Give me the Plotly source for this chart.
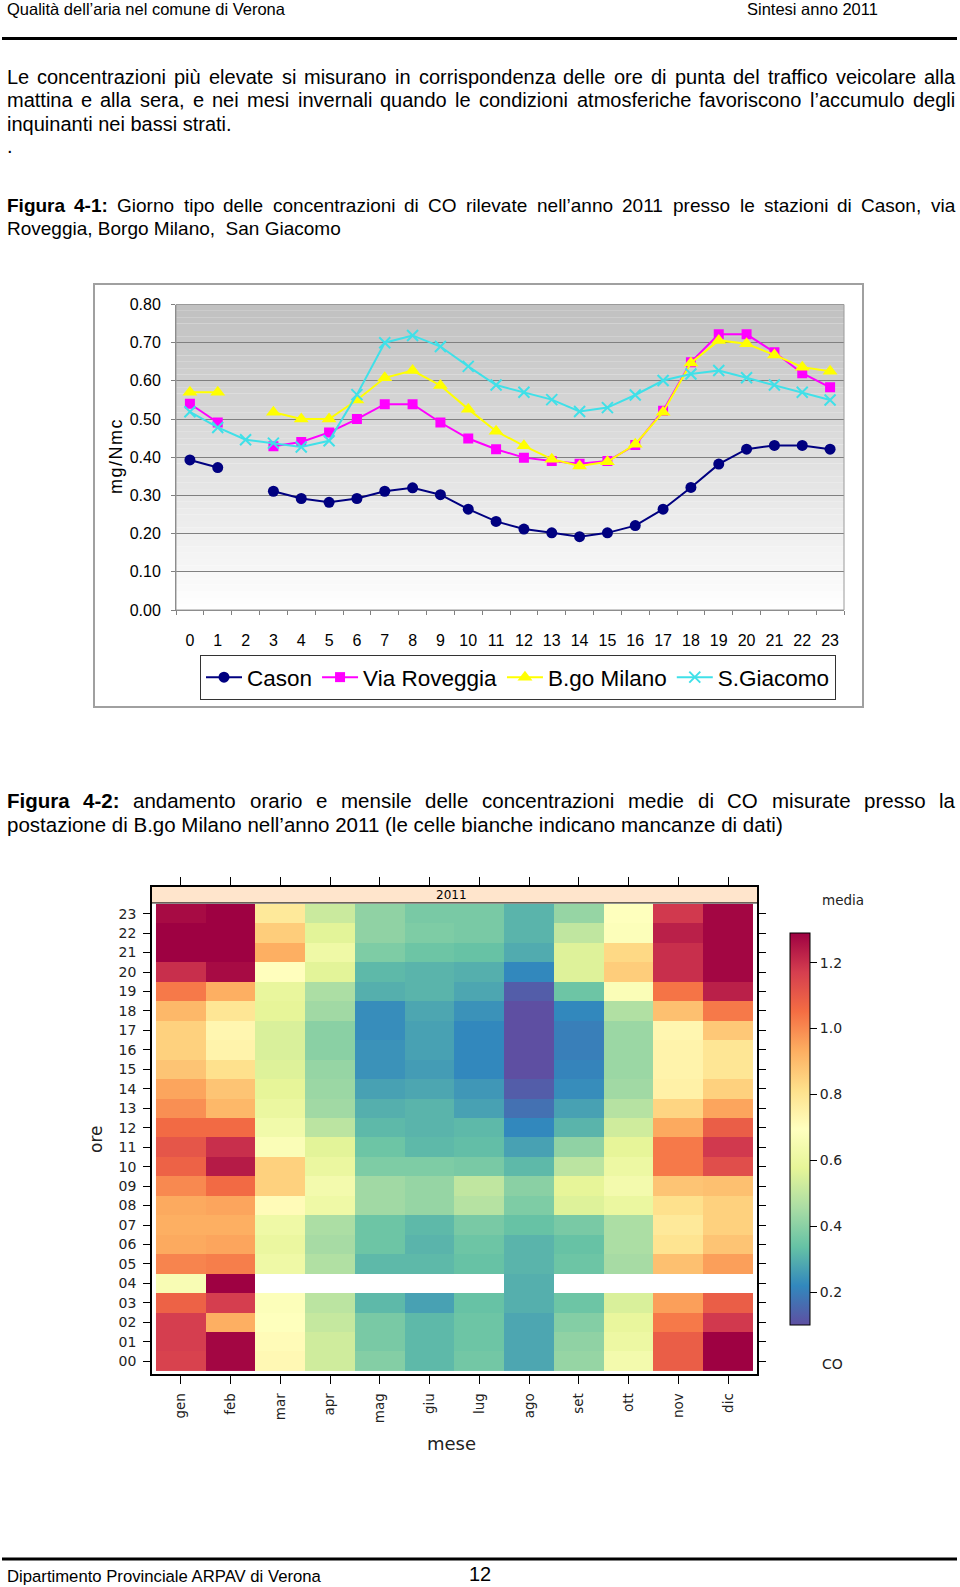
import plotly.graph_objects as go

W, H = 960, 1587
def px(x): return x / W
def py(y): return 1 - y / H

SANS = "Liberation Sans, Arial, Helvetica, sans-serif"
DV = "DejaVu Sans, Verdana, sans-serif"

# ---------------- Figure 4-1 data (mg/Nmc) ----------------
hours = list(range(24))
hour_labels = [str(h) for h in hours]
y_ticks = [0.0, 0.1, 0.2, 0.3, 0.4, 0.5, 0.6, 0.7, 0.8]
y_ticklabels = ["0.00", "0.10", "0.20", "0.30", "0.40", "0.50", "0.60", "0.70", "0.80"]

cason = [0.393, 0.373, None, 0.311, 0.292, 0.282, 0.292, 0.311, 0.320, 0.302, 0.264, 0.232,
         0.212, 0.202, 0.192, 0.202, 0.221, 0.264, 0.321, 0.382, 0.421, 0.431, 0.431, 0.421]
roveggia = [0.540, 0.491, None, 0.429, 0.440, 0.465, 0.500, 0.539, 0.539, 0.491, 0.449, 0.421,
            0.399, 0.390, 0.383, 0.390, 0.432, 0.522, 0.649, 0.722, 0.722, 0.675, 0.620, 0.583]
milano = [0.570, 0.570, None, 0.518, 0.500, 0.500, 0.550, 0.608, 0.627, 0.588, 0.526, 0.468,
          0.430, 0.395, 0.377, 0.388, 0.434, 0.518, 0.647, 0.706, 0.697, 0.668, 0.636, 0.625]
giacomo = [0.519, 0.478, 0.446, 0.437, 0.427, 0.443, 0.564, 0.700, 0.719, 0.690, 0.638, 0.589,
           0.570, 0.551, 0.520, 0.530, 0.563, 0.601, 0.618, 0.627, 0.608, 0.589, 0.570, 0.550]

# ---------------- Figure 4-2 data (B.go Milano, CO mean, hour 00..23) ----------------
months = ["gen", "feb", "mar", "apr", "mag", "giu", "lug", "ago", "set", "ott", "nov", "dic"]
hour_ticklabels = ["%02d" % h for h in hours]
gen = [1.16, 1.17, 1.17, 1.08, 0.66, 1.01, 0.94, 0.93, 0.94, 1.00, 1.08, 1.11,
       1.06, 0.99, 0.95, 0.88, 0.85, 0.85, 0.91, 1.03, 1.20, 1.29, 1.29, 1.27]
feb = [1.28, 1.28, 0.93, 1.17, 1.29, 1.02, 0.95, 0.93, 0.95, 1.06, 1.24, 1.20,
       1.06, 0.91, 0.88, 0.81, 0.74, 0.73, 0.79, 0.93, 1.27, 1.29, 1.29, 1.29]
mar = [0.72, 0.71, 0.69, 0.68, None, 0.62, 0.60, 0.62, 0.71, 0.85, 0.85, 0.67,
       0.63, 0.60, 0.58, 0.56, 0.55, 0.55, 0.58, 0.59, 0.70, 0.93, 0.86, 0.78]
apr = [0.53, 0.53, 0.51, 0.49, None, 0.47, 0.45, 0.46, 0.62, 0.64, 0.60, 0.57,
       0.49, 0.44, 0.43, 0.42, 0.40, 0.40, 0.44, 0.46, 0.57, 0.62, 0.57, 0.52]
mag = [0.39, 0.37, 0.37, 0.32, None, 0.32, 0.35, 0.35, 0.44, 0.44, 0.38, 0.35,
       0.32, 0.30, 0.27, 0.24, 0.24, 0.23, 0.23, 0.30, 0.32, 0.38, 0.41, 0.41]
giu = [0.32, 0.32, 0.32, 0.27, None, 0.32, 0.31, 0.32, 0.42, 0.42, 0.38, 0.32,
       0.31, 0.31, 0.28, 0.26, 0.27, 0.27, 0.28, 0.31, 0.31, 0.35, 0.38, 0.37]
lug = [0.36, 0.35, 0.35, 0.34, None, 0.34, 0.35, 0.37, 0.48, 0.50, 0.37, 0.33,
       0.32, 0.27, 0.25, 0.22, 0.22, 0.22, 0.24, 0.28, 0.30, 0.34, 0.37, 0.37]
ago = [0.28, 0.28, 0.28, 0.30, 0.30, 0.31, 0.31, 0.34, 0.38, 0.40, 0.32, 0.27,
       0.22, 0.17, 0.13, 0.10, 0.10, 0.10, 0.10, 0.13, 0.22, 0.29, 0.31, 0.31]
set_ = [0.42, 0.41, 0.39, 0.35, None, 0.35, 0.34, 0.37, 0.56, 0.58, 0.49, 0.41,
        0.31, 0.27, 0.23, 0.21, 0.20, 0.20, 0.22, 0.35, 0.56, 0.56, 0.50, 0.42]
ott = [0.64, 0.61, 0.59, 0.55, None, 0.45, 0.46, 0.46, 0.60, 0.64, 0.61, 0.58,
       0.53, 0.48, 0.44, 0.43, 0.43, 0.43, 0.47, 0.67, 0.86, 0.83, 0.68, 0.69]
nov = [1.09, 1.09, 1.03, 0.96, None, 0.89, 0.80, 0.78, 0.81, 0.88, 1.03, 1.03,
       0.94, 0.84, 0.75, 0.74, 0.74, 0.73, 0.89, 1.04, 1.20, 1.20, 1.23, 1.18]
dic = [1.29, 1.29, 1.18, 1.09, None, 0.96, 0.88, 0.85, 0.85, 0.89, 1.13, 1.18,
       1.09, 0.95, 0.85, 0.79, 0.79, 0.87, 1.03, 1.23, 1.28, 1.28, 1.28, 1.28]
cbar_ticks = [0.2, 0.4, 0.6, 0.8, 1.0, 1.2]
cbar_ticklabels = ["0.2", "0.4", "0.6", "0.8", "1.0", "1.2"]

month_series = [gen, feb, mar, apr, mag, giu, lug, ago, set_, ott, nov, dic]
z = [[month_series[m][h] for m in range(12)] for h in hours]

spectral = ["#5E4FA2", "#3288BD", "#66C2A5", "#ABDDA4", "#E6F598", "#FFFFBF",
            "#FEE08B", "#FDAE61", "#F46D43", "#D53E4F", "#9E0142"]
colorscale = [[i / 10, c] for i, c in enumerate(spectral)]

fig = go.Figure()

series = [
    ("Cason", cason, "#000080", "circle", 11),
    ("Via Roveggia", roveggia, "#FF00FF", "square", 10),
    ("B.go Milano", milano, "#FFFF00", "triangle-up", 13),
    ("S.Giacomo", giacomo, "#40E0E8", "x-thin", 11),
]
for name, vals, col, sym, size in series:
    if sym == "x-thin":
        mk = dict(symbol=sym, size=size, color=col, line=dict(width=2, color=col))
    else:
        mk = dict(symbol=sym, size=size, color=col, line=dict(width=0))
    fig.add_trace(go.Scatter(x=hours, y=vals, name=name, mode="lines+markers",
                             line=dict(color=col, width=2), marker=mk,
                             connectgaps=False, xaxis="x", yaxis="y"))

fig.add_trace(go.Heatmap(
    x=list(range(12)), y=hours, z=z, colorscale=colorscale, zmin=0.1, zmax=1.29,
    xaxis="x2", yaxis="y2", showlegend=False, hoverongaps=False,
    colorbar=dict(x=px(790), xanchor="left", xpad=0, y=py(933), yanchor="top", ypad=0,
                  len=392, lenmode="pixels", thickness=20, thicknessmode="pixels",
                  outlinecolor="black", outlinewidth=1, borderwidth=0,
                  tickvals=cbar_ticks, ticktext=cbar_ticklabels, ticks="outside",
                  ticklen=7, tickcolor="black",
                  tickfont=dict(family=DV, size=14, color="#222"))))

shapes = []
# gradient background of line chart
nb = 48
for i in range(nb):
    y0 = 0.8 * i / nb
    y1 = 0.8 * (i + 1) / nb
    g = int(round(255 - 63 * ((y0 + y1) / 2) / 0.8))
    shapes.append(dict(type="rect", xref="x domain", yref="y", x0=0, x1=1, y0=y0, y1=y1,
                       fillcolor="rgb(%d,%d,%d)" % (g, g, g), line=dict(width=0), layer="below"))
shapes.append(dict(type="rect", xref="x domain", yref="y domain", x0=0, x1=1, y0=0, y1=1,
                   line=dict(color="#9A9A9A", width=1), layer="above"))
# outer chart box
shapes.append(dict(type="rect", xref="paper", yref="paper", x0=px(94), x1=px(863),
                   y0=py(707), y1=py(284), line=dict(color="#A0A0A0", width=2)))
# heatmap strip
strip_bottom = 23.5 + 1 / 19.46
shapes.append(dict(type="rect", xref="x2 domain", yref="y2", x0=0, x1=1, y0=strip_bottom,
                   y1=24.37, fillcolor="#FFE5CC", line=dict(width=0), layer="below"))
shapes.append(dict(type="line", xref="x2 domain", yref="y2", x0=0, x1=1, y0=strip_bottom,
                   y1=strip_bottom, line=dict(color="black", width=1)))
# page rules
shapes.append(dict(type="line", xref="paper", yref="paper", x0=px(2), x1=px(957),
                   y0=py(38.5), y1=py(38.5), line=dict(color="black", width=3)))
shapes.append(dict(type="line", xref="paper", yref="paper", x0=px(2), x1=px(957),
                   y0=py(1559), y1=py(1559), line=dict(color="black", width=3)))

annotations = []
def ann(text, x, y, size, family=SANS, xanchor="left", yanchor="middle", angle=0, color="black"):
    annotations.append(dict(text=text, x=px(x), y=py(y), xref="paper", yref="paper",
                            xanchor=xanchor, yanchor=yanchor, showarrow=False, borderpad=0,
                            textangle=angle, font=dict(family=family, size=size, color=color)))

REG = {c: 556 for c in "abdeghnopqu0123456789ùàè"}
REG.update({'c': 500, 'f': 278, 'i': 222, 'j': 222, 'k': 500, 'l': 222, 'm': 833, 'r': 333,
            's': 500, 't': 278, 'v': 500, 'w': 722, 'x': 500, 'y': 500, 'z': 500,
            'A': 667, 'B': 667, 'C': 722, 'D': 722, 'E': 667, 'F': 611, 'G': 778, 'H': 722,
            'I': 278, 'L': 556, 'M': 833, 'N': 722, 'O': 778, 'P': 667, 'R': 722, 'S': 667,
            'T': 611, 'V': 667, '.': 278, ',': 278, ':': 278, '-': 333, '(': 333, ')': 333,
            '\u2019': 222, ' ': 278})
BOLD = {'F': 611, 'i': 278, 'g': 611, 'u': 611, 'r': 389, 'a': 556, '4': 556, '-': 333,
        '1': 556, '2': 556, ':': 333}

def wwidth(word, bold, size):
    tab = BOLD if bold else REG
    return sum(tab.get(ch, 556) for ch in word) * size / 1000.0

def justified(words, y, size, left=6, right=954):
    widths = [wwidth(w, b, size) for w, b in words]
    gap = (right - left - sum(widths)) / (len(words) - 1)
    x = left
    for (w, b), ww in zip(words, widths):
        ann("<b>%s</b>" % w if b else w, x, y, size)
        x += ww + gap

def plain_words(s):
    return [(w, False) for w in s.split(" ")]

# header / footer
ann("Qualità dell\u2019aria nel comune di Verona", 6, 9.5, 16.5)
ann("Sintesi anno 2011", 879, 9.5, 16.5, xanchor="right")
ann("Dipartimento Provinciale ARPAV di Verona", 6, 1576, 16.7)
ann("12", 480, 1574, 20, xanchor="center")

# paragraph
justified(plain_words("Le concentrazioni più elevate si misurano in corrispondenza delle ore di punta del traffico veicolare alla"), 77, 20)
justified(plain_words("mattina e alla sera, e nei mesi invernali quando le condizioni atmosferiche favoriscono l\u2019accumulo degli"), 100.3, 20)
ann("inquinanti nei bassi strati.", 6, 123.5, 20)
ann(".", 6, 146, 20)

# caption 4-1
justified([("Figura", True), ("4-1:", True)] +
          plain_words("Giorno tipo delle concentrazioni di CO rilevate nell\u2019anno 2011 presso le stazioni di Cason, via"),
          205.5, 19)
ann("Roveggia, Borgo Milano,\u00a0 San Giacomo", 6, 228.5, 19)

# caption 4-2
justified([("Figura", True), ("4-2:", True)] +
          plain_words("andamento orario e mensile delle concentrazioni medie di CO misurate presso la"),
          800.5, 20.5)
ann("postazione di B.go Milano nell\u2019anno 2011 (le celle bianche indicano mancanze di dati)", 6, 824.5, 20.5)

# line chart y title
ann("m\u200ag\u200a/\u200aN\u200am\u200ac", 116, 457, 18, SANS, xanchor="center", angle=-90)

# heatmap texts
ann("2011", 451, 895, 12, DV, xanchor="center")
ann("ore", 96, 1140, 17, DV, xanchor="center", angle=-90, color="#222")
ann("mese", 451, 1443, 18, DV, xanchor="center", color="#222")
ann("media", 843, 900, 13.5, DV, xanchor="center", color="#222")
ann("CO", 832, 1364, 14, DV, xanchor="center", color="#222")

fig.update_layout(
    width=W, height=H, margin=dict(l=0, r=0, t=0, b=0, autoexpand=False), autosize=False,
    paper_bgcolor="white", plot_bgcolor="white",
    shapes=shapes, annotations=annotations,
    showlegend=True,
    legend=dict(orientation="h", x=px(518), xanchor="center", y=py(655), yanchor="top",
                bordercolor="#333", borderwidth=1, bgcolor="white",
                font=dict(family=SANS, size=22.5, color="black"), itemwidth=36,
                tracegroupgap=0),
    xaxis=dict(domain=[px(176), px(844)], range=[-0.5, 23.5], anchor="y",
               tickmode="array", tickvals=hours, ticktext=hour_labels, ticks="",
               showgrid=False, zeroline=False, showline=True, linecolor="#808080",
               tickfont=dict(family=SANS, size=16, color="black"), ticklabelstandoff=16,
               minor=dict(tick0=-0.5, dtick=1, ticks="outside", ticklen=4, tickcolor="#808080",
                          showgrid=False)),
    yaxis=dict(domain=[py(610), py(304.5)], range=[0, 0.8], anchor="x",
               tickmode="array", tickvals=y_ticks, ticktext=y_ticklabels,
               ticks="outside", ticklen=4, tickcolor="#808080",
               showgrid=True, gridcolor="#808080", gridwidth=1, zeroline=False,
               showline=True, linecolor="#808080",
               tickfont=dict(family=SANS, size=16, color="black"), ticklabelstandoff=7),
    xaxis2=dict(domain=[px(152), px(757)], range=[-0.58, 11.58], anchor="y2",
                tickmode="array", tickvals=list(range(12)), ticktext=months, tickangle=-90,
                ticks="outside", ticklen=8, tickcolor="black", mirror="allticks",
                showline=True, linecolor="black", linewidth=1.5, showgrid=False, zeroline=False,
                tickfont=dict(family=DV, size=13.5, color="#222"), ticklabelstandoff=4),
    yaxis2=dict(domain=[py(1374), py(887)], range=[-0.654, 24.37], anchor="x2",
                tickmode="array", tickvals=hours, ticktext=hour_ticklabels,
                ticks="outside", ticklen=7, tickcolor="black", mirror="allticks",
                showline=True, linecolor="black", linewidth=1.5, showgrid=False, zeroline=False,
                tickfont=dict(family=DV, size=14, color="#222"), ticklabelstandoff=4),
)

post = ("document.documentElement.style.margin='0';document.documentElement.style.padding='0';"
        "document.body.style.margin='0';document.body.style.padding='0';"
        "document.documentElement.style.overflow='hidden';document.body.style.overflow='hidden';")
fig.write_html("out.html", post_script=post, config={"responsive": False})
